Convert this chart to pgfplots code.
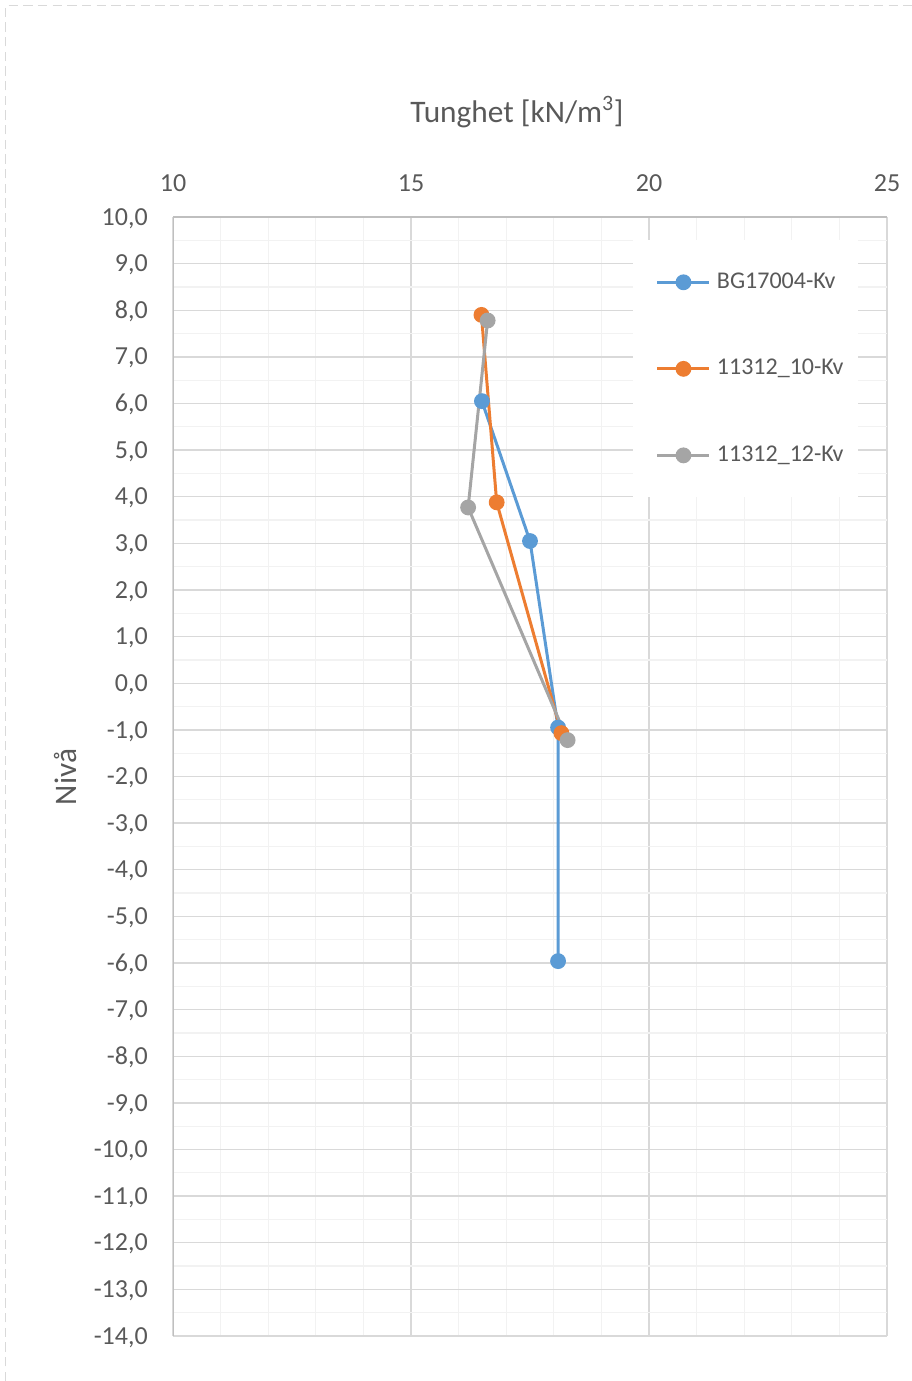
\documentclass[border=0pt]{standalone}
\usepackage{fontspec}
\setmainfont{Carlito}
\usepackage{pgfplots}
\pgfplotsset{compat=1.18}

\definecolor{sBlue}{HTML}{5B9BD5}
\definecolor{sOrange}{HTML}{ED7D31}
\definecolor{sGray}{HTML}{A5A5A5}
\definecolor{txt}{HTML}{595959}
\definecolor{majgrid}{HTML}{D9D9D9}
\definecolor{mingrid}{HTML}{F2F2F2}
\definecolor{axline}{HTML}{BFBFBF}

\begin{document}
\begin{tikzpicture}
\path[use as bounding box] (0,0) rectangle (684pt,1035.75pt);
% dashed frame of the chart area
\draw[majgrid, line width=0.75pt, dash pattern=on 7pt off 4pt]
  (3.75pt,0) -- (3.75pt,1031.25pt) -- (684pt,1031.25pt);

\begin{axis}[
  at={(129.75pt,33.75pt)}, anchor=south west,
  scale only axis, width=535.5pt, height=839.25pt,
  xmin=10, xmax=25, ymin=-14, ymax=10,
  xtick={10,15,20,25}, ytick={-14,-13,...,10},
  minor x tick num=4, minor y tick num=1,
  grid=both,
  major grid style={draw=majgrid, line width=1pt},
  minor grid style={draw=mingrid, line width=1pt},
  axis line style={draw=none},
  major tick length=0pt, minor tick length=0pt,
  xticklabel pos=upper,
  /pgf/number format/assume math mode=true,
  xticklabel style={text=txt, font=\fontsize{19.5}{23}\selectfont,
    anchor=base, inner sep=0pt, yshift=18.75pt},
  yticklabel style={text=txt, font=\fontsize{19.5}{23}\selectfont,
    anchor=base east, inner sep=0pt, xshift=-18.75pt, yshift=-6.1pt,
    /pgf/number format/.cd, fixed, fixed zerofill, precision=1, use comma},
  legend style={at={(0.6443,0.9794)}, anchor=north west,
    fill=white, draw=none, text=txt,
    font=\fontsize{18}{21}\selectfont,
    inner xsep=6pt, inner ysep=23pt, row sep=47.9pt,
    nodes={inner ysep=0pt, inner xsep=4.5pt, text height=13pt, text depth=4pt}},
  legend cell align=left,
  legend image code/.code={%
    \path (0pt,0pt);
    \draw[mark repeat=2, mark phase=2, #1]
      plot coordinates {(11pt,0pt) (30.5pt,0pt) (50pt,0pt)};},
  every axis plot/.append style={line width=2.25pt,
    mark=*, mark size=4.8pt, mark options={solid}},
]
\draw[axline, line width=1pt]
  (rel axis cs:0,0) -- (rel axis cs:0,1) -- (rel axis cs:1,1);

\addplot[color=sBlue, mark options={fill=sBlue, draw=sBlue}] coordinates {
  (16.49, 6.05) (17.50, 3.05) (18.09, -0.95) (18.09, -5.96)
};
\addlegendentry{BG17004-Kv}

\addplot[color=sOrange, mark options={fill=sOrange, draw=sOrange}] coordinates {
  (16.48, 7.90) (16.80, 3.88) (18.16, -1.07)
};
\addlegendentry{11312\_10-Kv}

\addplot[color=sGray, mark options={fill=sGray, draw=sGray}] coordinates {
  (16.61, 7.78) (16.20, 3.77) (18.29, -1.22)
};
\addlegendentry{11312\_12-Kv}
\end{axis}

\node[text=txt, font=\fontsize{23.5}{28}\selectfont]
  at (387.75pt, 951.75pt) {Tunghet [kN/m\textsuperscript{3}]};
\node[text=txt, font=\fontsize{23.5}{28}\selectfont, rotate=90]
  at (49.5pt, 453pt) {Nivå};
\end{tikzpicture}
\end{document}
